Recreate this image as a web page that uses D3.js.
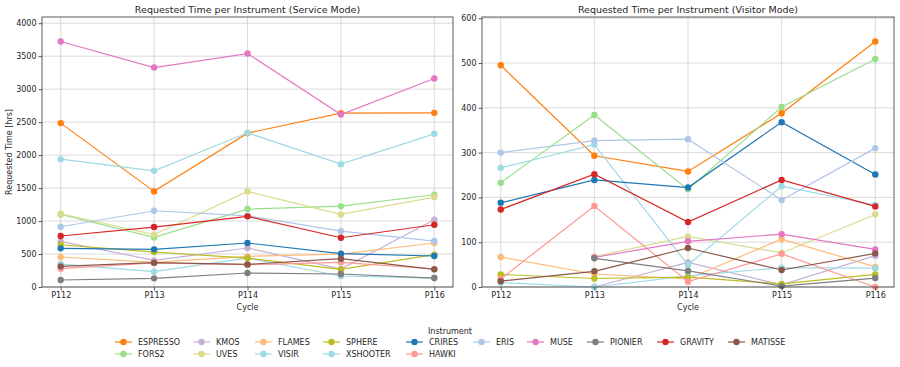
<!DOCTYPE html>
<html><head><meta charset="utf-8">
<script src="https://cdn.jsdelivr.net/npm/d3@7"></script>
<style>body{margin:0;background:#fff}svg{font-family:"DejaVu Sans",sans-serif}</style>
</head><body><svg id="c" width="900" height="367"></svg>
<script>
const cycles = ["P112","P113","P114","P115","P116"];
const instruments = ["ESPRESSO","FORS2","KMOS","UVES","FLAMES","VISIR","SPHERE","XSHOOTER","CRIRES","HAWKI","ERIS","MUSE","PIONIER","GRAVITY","MATISSE"];
const colors = ["#ff7f0e","#98df8a","#c5b0d5","#dbdb8d","#ffbb78","#9edae5","#bcbd22","#9edae5","#1f77b4","#ff9896","#aec7e8","#e377c2","#7f7f7f","#d62728","#8c564b"];
// Service mode requested hours
const serviceESPRESSO = [2485,1450,2333,2636,2641];
const serviceFORS2    = [1100,752,1182,1227,1399];
const serviceKMOS     = [692,404,591,273,1020];
const serviceUVES     = [1111,793,1449,1101,1364];
const serviceFLAMES   = [455,374,465,500,667];
const serviceVISIR    = [348,232,439,167,136];
const serviceSPHERE   = [641,530,439,268,490];
const serviceXSHOOTER = [1939,1762,2338,1863,2323];
const serviceCRIRES   = [586,571,667,505,470];
const serviceHAWKI    = [278,364,338,374,273];
const serviceERIS     = [914,1156,1080,848,697];
const serviceMUSE     = [3722,3328,3540,2616,3162];
const servicePIONIER  = [106,131,212,197,136];
const serviceGRAVITY  = [773,909,1071,747,944];
const serviceMATISSE  = [313,369,343,429,268];
// Visitor mode requested hours (null = no data)
const visitorESPRESSO = [495,293,258,388,548];
const visitorFORS2    = [233,384,218,402,509];
const visitorKMOS     = [null,0,55,5,70];
const visitorUVES     = [null,68,113,76,162];
const visitorFLAMES   = [67,29,18,107,45];
const visitorVISIR    = [10,0,25,43,42];
const visitorSPHERE   = [28,19,22,7,28];
const visitorXSHOOTER = [266,318,49,225,183];
const visitorCRIRES   = [188,239,222,368,251];
const visitorHAWKI    = [18,181,12,74,0];
const visitorERIS     = [300,327,330,194,310];
const visitorMUSE     = [null,66,102,118,84];
const visitorPIONIER  = [null,64,36,2,20];
const visitorGRAVITY  = [173,252,145,239,180];
const visitorMATISSE  = [13,35,87,38,75];

const serviceSeries = [serviceESPRESSO,serviceFORS2,serviceKMOS,serviceUVES,serviceFLAMES,serviceVISIR,serviceSPHERE,serviceXSHOOTER,serviceCRIRES,serviceHAWKI,serviceERIS,serviceMUSE,servicePIONIER,serviceGRAVITY,serviceMATISSE];
const visitorSeries = [visitorESPRESSO,visitorFORS2,visitorKMOS,visitorUVES,visitorFLAMES,visitorVISIR,visitorSPHERE,visitorXSHOOTER,visitorCRIRES,visitorHAWKI,visitorERIS,visitorMUSE,visitorPIONIER,visitorGRAVITY,visitorMATISSE];
const serviceTicks = [0,500,1000,1500,2000,2500,3000,3500,4000];
const visitorTicks = [0,100,200,300,400,500,600];

const svg = d3.select("#c");
const TXT = "#262626";

function panel(x0, x1, title, series, ticks, showYLabel){
  const top = 17, bottom = 287;
  const allVals = series.flat().filter(v => v != null);
  const ymax = d3.max(allVals) * 1.1;
  const x = d3.scalePoint().domain(cycles).range([x0, x1]).padding(0.2);
  const y = d3.scaleLinear().domain([0, ymax]).range([bottom, top]);
  const g = svg.append("g");
  // grid
  g.selectAll(".gx").data(cycles).enter().append("line")
    .attr("x1", d => x(d)).attr("x2", d => x(d)).attr("y1", top).attr("y2", bottom)
    .attr("stroke", "#b0b0b0").attr("stroke-opacity", 0.6).attr("stroke-width", 0.8);
  g.selectAll(".gy").data(ticks).enter().append("line")
    .attr("x1", x0).attr("x2", x1).attr("y1", d => y(d)).attr("y2", d => y(d))
    .attr("stroke", "#b0b0b0").attr("stroke-opacity", 0.6).attr("stroke-width", 0.8);
  // lines
  const line = d3.line().defined(d => d.v != null).x(d => x(d.c)).y(d => y(d.v));
  series.forEach((s, i) => {
    const pts = s.map((v, j) => ({c: cycles[j], v}));
    g.append("path").datum(pts).attr("d", line).attr("fill", "none")
      .attr("stroke", colors[i]).attr("stroke-width", 1.2);
    g.selectAll(null).data(pts.filter(p => p.v != null)).enter().append("circle")
      .attr("cx", d => x(d.c)).attr("cy", d => y(d.v)).attr("r", 3.2).attr("fill", colors[i]);
  });
  // axes
  const ax = g.append("g").attr("transform", `translate(0,${bottom})`)
    .call(d3.axisBottom(x).tickSize(3.5).tickPadding(2));
  const ay = g.append("g").attr("transform", `translate(${x0},0)`)
    .call(d3.axisLeft(y).tickValues(ticks).tickFormat(d3.format("d")).tickSize(3.5).tickPadding(2));
  [ax, ay].forEach(a => {
    a.select(".domain").remove();
    a.selectAll("line").attr("stroke", "#333").attr("stroke-width", 0.8);
    a.selectAll("text").attr("fill", TXT).style("font-size", "8px").style("font-family", "DejaVu Sans");
  });
  // frame
  g.append("rect").attr("x", x0).attr("y", top).attr("width", x1 - x0).attr("height", bottom - top)
    .attr("fill", "none").attr("stroke", "#333").attr("stroke-width", 0.8);
  // titles
  g.append("text").attr("x", (x0 + x1) / 2).attr("y", 13).attr("text-anchor", "middle")
    .attr("fill", TXT).style("font-size", "9.5px").text(title);
  g.append("text").attr("x", (x0 + x1) / 2).attr("y", 310).attr("text-anchor", "middle")
    .attr("fill", TXT).style("font-size", "8px").text("Cycle");
  if (showYLabel) {
    g.append("text").attr("transform", `translate(12,${(top + bottom) / 2}) rotate(-90)`)
      .attr("text-anchor", "middle").attr("fill", TXT).style("font-size", "8px").text("Requested Time [hrs]");
  }
}
panel(42, 453, "Requested Time per Instrument (Service Mode)", serviceSeries, serviceTicks, true);
panel(482, 894, "Requested Time per Instrument (Visitor Mode)", visitorSeries, visitorTicks, false);

// legend
const legendCols = [115,193,255,323,406,473,527,587,657,728];
const rowsY = [342,354];
const lg = svg.append("g");
lg.append("text").attr("x", 450).attr("y", 334).attr("text-anchor", "middle")
  .attr("fill", TXT).style("font-size", "8px").text("Instrument");
instruments.forEach((name, i) => {
  let col, row;
  if (i < 10) { col = Math.floor(i / 2); row = i % 2; } else { col = 5 + (i - 10); row = 0; }
  const lx = legendCols[col], ly = rowsY[row];
  lg.append("line").attr("x1", lx).attr("x2", lx + 17).attr("y1", ly).attr("y2", ly)
    .attr("stroke", colors[i]).attr("stroke-width", 1.2);
  lg.append("circle").attr("cx", lx + 8.5).attr("cy", ly).attr("r", 3.2).attr("fill", colors[i]);
  lg.append("text").attr("x", lx + 23).attr("y", ly + 3).attr("fill", TXT)
    .style("font-size", "8px").text(name);
});
</script></body></html>
